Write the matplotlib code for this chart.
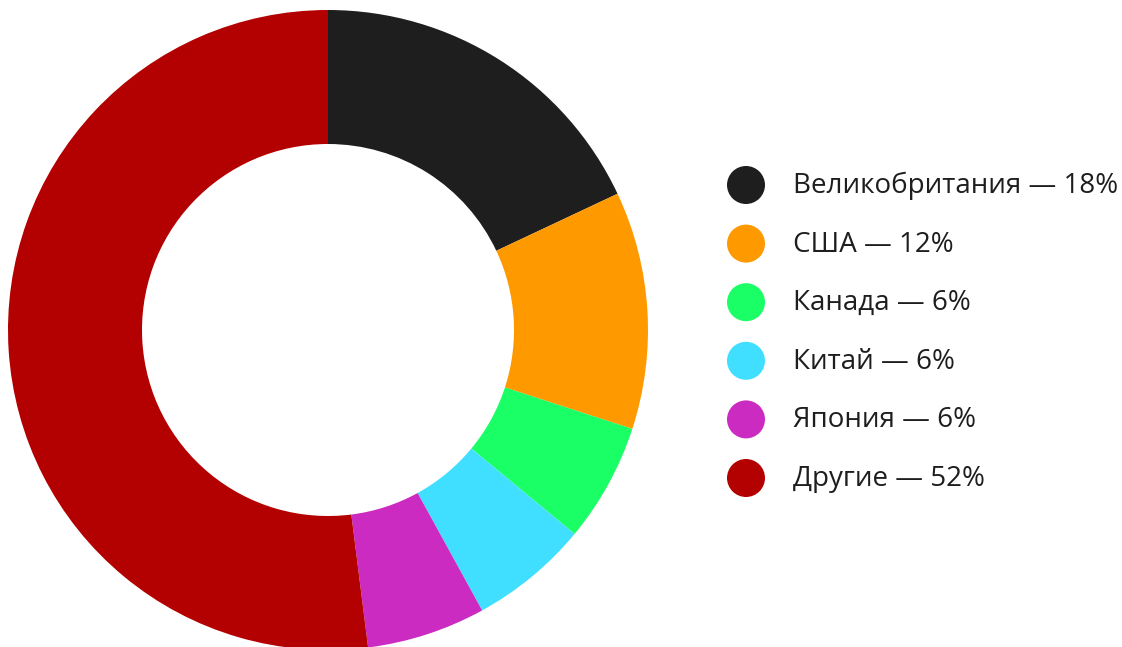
import matplotlib.pyplot as plt

# data
countries = ['Великобритания', 'США', 'Канада', 'Китай', 'Япония', 'Другие']
shares = [18, 12, 6, 6, 6, 52]
colors = ['#1e1e1e', '#ff9900', '#1aff66', '#40dfff', '#cc2bc2', '#b30000']

plt.rcParams['font.family'] = ['Open Sans', 'DejaVu Sans']

W, H = 1122, 647
fig = plt.figure(figsize=(W / 100, H / 100), dpi=100)

# donut, center at (328, 330) px, radius 320 px
cx, cy, r = 328, 330, 320
ax = fig.add_axes([(cx - r) / W, (H - cy - r) / H, 2 * r / W, 2 * r / H])
ax.pie(shares, colors=colors, startangle=90, counterclock=False, radius=1,
       wedgeprops=dict(width=1 - 186 / 320, edgecolor='none'))
ax.set_xlim(-1, 1)
ax.set_ylim(-1, 1)
ax.set_aspect('equal')
ax.axis('off')

# legend drawn in pixel coordinates
lg = fig.add_axes([0, 0, 1, 1], zorder=-1)
lg.set_xlim(0, W)
lg.set_ylim(H, 0)
lg.axis('off')
y0, step = 185, 58.6
for i, (name, val, col) in enumerate(zip(countries, shares, colors)):
    y = y0 + i * step
    lg.scatter([746], [y], s=(38 * 0.72) ** 2, color=col, edgecolors='none')
    lg.text(793, y + 1, f'{name} — {val}%', fontsize=20, va='center', ha='left',
            color='#1e1e1e')

fig.savefig('out.png', dpi=100)
